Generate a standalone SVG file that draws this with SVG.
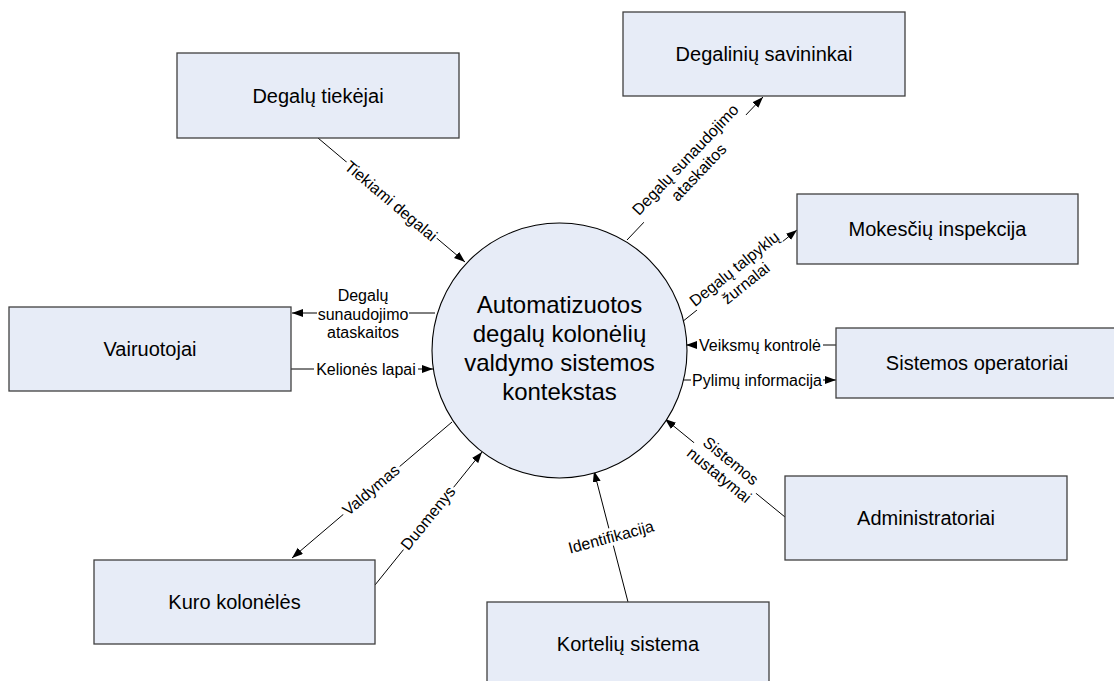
<svg xmlns="http://www.w3.org/2000/svg" width="1114" height="681" viewBox="0 0 1114 681">
<style>
.box{fill:#E7ECF7;stroke:#404040;stroke-width:1.3}
.circ{fill:#E7ECF7;stroke:#000;stroke-width:1.1}
.bt{font-family:"Liberation Sans",Arial,sans-serif;font-size:20px;fill:#000;text-anchor:middle}
.ct{font-family:"Liberation Sans",Arial,sans-serif;font-size:24px;fill:#000;text-anchor:middle}
.lt{font-family:"Liberation Sans",Arial,sans-serif;font-size:16px;fill:#000;text-anchor:middle}
.ln{stroke:#000;stroke-width:1;fill:none;marker-end:url(#ah)}
.bg{fill:#fff}
</style>
<defs>
<marker id="ah" markerUnits="userSpaceOnUse" markerWidth="12" markerHeight="9" refX="11" refY="4" orient="auto">
<path d="M0,0 L11,4 L0,8 z" fill="#000"/>
</marker>
</defs>
<rect width="1114" height="681" fill="#fff"/>
<g id="connectors">
<line class="ln" x1="318" y1="138" x2="465" y2="262"/>
<line class="ln" x1="627" y1="240" x2="763" y2="97"/>
<line class="ln" x1="682" y1="322" x2="797" y2="230"/>
<line class="ln" x1="435" y1="313" x2="292" y2="313"/>
<line class="ln" x1="291" y1="369" x2="433" y2="369"/>
<line class="ln" x1="836" y1="345" x2="686" y2="345"/>
<line class="ln" x1="680" y1="380" x2="836" y2="380"/>
<line class="ln" x1="785" y1="517" x2="665" y2="419"/>
<line class="ln" x1="452" y1="422" x2="292" y2="558"/>
<line class="ln" x1="375" y1="585" x2="482" y2="452"/>
<line class="ln" x1="628" y1="602" x2="594" y2="471"/>
<g transform="translate(391,201) rotate(40.1)"><rect class="bg" x="-59" y="-9" width="118" height="18"/><text class="lt" y="5.5">Tiekiami degalai</text></g>
<g transform="translate(692,166) rotate(-46.4)"><rect class="bg" x="-74" y="-18" width="148" height="36"/><text class="lt" y="-3.7">Degalų sunaudojimo</text><text class="lt" y="14.7">ataskaitos</text></g>
<g transform="translate(740,276) rotate(-38.7)"><rect class="bg" x="-55" y="-17" width="110" height="34"/><text class="lt" y="-3.7">Degalų talpyklų</text><text class="lt" y="14.7">žurnalai</text></g>
<g transform="translate(363,314)"><rect class="bg" x="-46" y="-27" width="92" height="54"/><text class="lt" y="-13">Degalų</text><text class="lt" y="5.5">sunaudojimo</text><text class="lt" y="24">ataskaitos</text></g>
<g transform="translate(366,369)"><rect class="bg" x="-52" y="-9" width="104" height="18"/><text class="lt" y="5.5">Kelionės lapai</text></g>
<g transform="translate(760,345)"><rect class="bg" x="-63" y="-9" width="126" height="18"/><text class="lt" y="5.5">Veiksmų kontrolė</text></g>
<g transform="translate(757,380)"><rect class="bg" x="-66" y="-9" width="132" height="18"/><text class="lt" y="5.5">Pylimų informacija</text></g>
<g transform="translate(725,468) rotate(39.2)"><rect class="bg" x="-40" y="-18" width="80" height="36"/><text class="lt" y="-3.7">Sistemos</text><text class="lt" y="14.7">nustatymai</text></g>
<g transform="translate(371,490) rotate(-40.4)"><rect class="bg" x="-37" y="-9" width="74" height="18"/><text class="lt" y="5.5">Valdymas</text></g>
<g transform="translate(428,518) rotate(-51.2)"><rect class="bg" x="-40" y="-9" width="80" height="18"/><text class="lt" y="5.5">Duomenys</text></g>
<g transform="translate(611,537) rotate(-15)"><rect class="bg" x="-45" y="-9" width="90" height="18"/><text class="lt" y="5.5">Identifikacija</text></g>
</g>
<g id="center">
<circle class="circ" cx="559.5" cy="350.5" r="127.5"/>
<text class="ct" x="559.5" y="313">Automatizuotos</text>
<text class="ct" x="559.5" y="342">degalų kolonėlių</text>
<text class="ct" x="559.5" y="371">valdymo sistemos</text>
<text class="ct" x="559.5" y="400">kontekstas</text>
</g>
<g id="tiekejai"><rect class="box" x="177" y="53" width="282" height="85"/><text class="bt" x="318" y="102.5">Degalų tiekėjai</text></g>
<g id="savininkai"><rect class="box" x="623" y="12" width="282" height="84"/><text class="bt" x="764" y="61">Degalinių savininkai</text></g>
<g id="inspekcija"><rect class="box" x="797" y="194" width="281" height="70"/><text class="bt" x="937.5" y="236">Mokesčių inspekcija</text></g>
<g id="operatoriai"><rect class="box" x="836" y="328" width="282" height="70"/><text class="bt" x="977" y="370">Sistemos operatoriai</text></g>
<g id="administratoriai"><rect class="box" x="785" y="476" width="282" height="84"/><text class="bt" x="926" y="525">Administratoriai</text></g>
<g id="vairuotojai"><rect class="box" x="9" y="307" width="282" height="84"/><text class="bt" x="150" y="356">Vairuotojai</text></g>
<g id="kolonele"><rect class="box" x="94" y="560" width="281" height="84"/><text class="bt" x="234.5" y="609">Kuro kolonėlės</text></g>
<g id="korteles"><rect class="box" x="487" y="602" width="282" height="84"/><text class="bt" x="628" y="651">Kortelių sistema</text></g>
</svg>
